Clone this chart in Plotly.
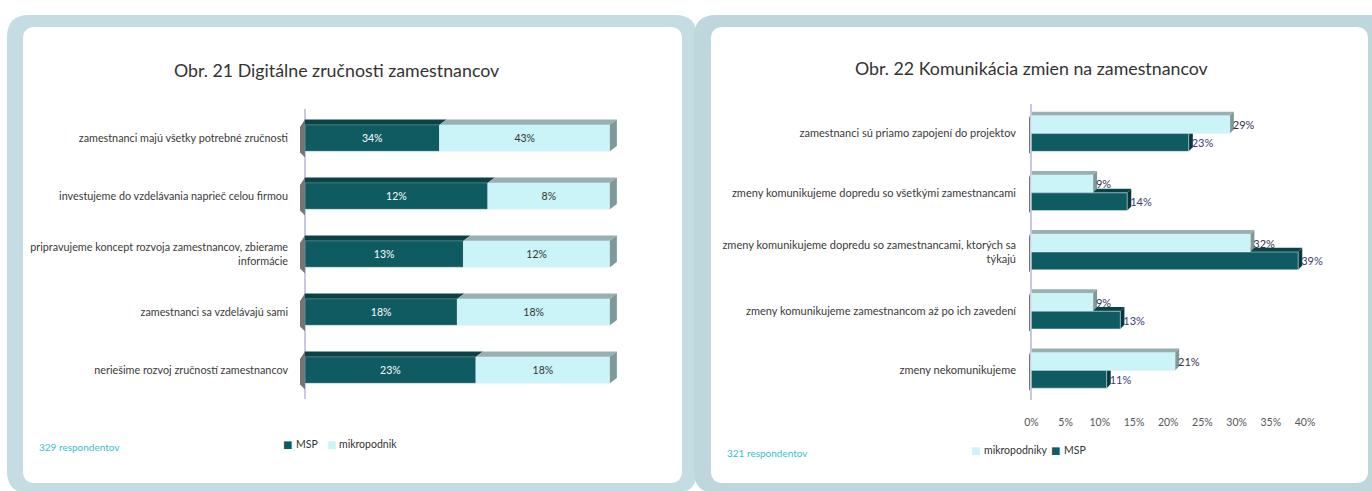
import plotly.graph_objects as go

W, H = 1372, 491
FONT = "Lato, 'Open Sans', sans-serif"

# ---------------- data ----------------
cat1 = [
    "zamestnanci majú všetky potrebné zručnosti",
    "investujeme do vzdelávania naprieč celou firmou",
    "pripravujeme koncept rozvoja zamestnancov, zbierame<br>informácie",
    "zamestnanci sa vzdelávajú sami",
    "neriešime rozvoj zručností zamestnancov",
]
msp1 = [34, 12, 13, 18, 23]
mikro1 = [43, 8, 12, 18, 18]

cat2 = [
    "zamestnanci sú priamo zapojení do projektov",
    "zmeny komunikujeme dopredu so všetkými zamestnancami",
    "zmeny komunikujeme dopredu so zamestnancami, ktorých sa<br>týkajú",
    "zmeny komunikujeme zamestnancom až po ich zavedení",
    "zmeny nekomunikujeme",
]
mikro2 = [29, 9, 32, 9, 21]
msp2 = [23, 14, 39, 13, 11]

x2_ticks = [0, 5, 10, 15, 20, 25, 30, 35, 40]
x2_ticktext = ["0%", "5%", "10%", "15%", "20%", "25%", "30%", "35%", "40%"]

title1 = "Obr. 21 Digitálne zručnosti zamestnancov"
title2 = "Obr. 22 Komunikácia zmien na zamestnancov"
note1 = "329 respondentov"
note2 = "321 respondentov"
legend1_names = ["MSP", "mikropodnik"]
legend2_names = ["mikropodniky", "MSP"]

DARK = "#0e5c61"
LIGHT = "#cbf4f8"

# shares for the 100% stacked chart
tot1 = [a + b for a, b in zip(msp1, mikro1)]
share_msp1 = [a / t * 100 for a, t in zip(msp1, tot1)]
share_mikro1 = [b / t * 100 for b, t in zip(mikro1, tot1)]


def px(x):
    return x / W


def py(y):
    return 1 - y / H


def rrect(x0, y0, x1, y1, r):
    rx, ry = r / W, r / H
    X0, X1 = px(x0), px(x1)
    Y0, Y1 = py(y0), py(y1)
    return (f"M{X0+rx},{Y0} L{X1-rx},{Y0} Q{X1},{Y0} {X1},{Y0-ry} "
            f"L{X1},{Y1+ry} Q{X1},{Y1} {X1-rx},{Y1} L{X0+rx},{Y1} "
            f"Q{X0},{Y1} {X0},{Y1+ry} L{X0},{Y0-ry} Q{X0},{Y0} {X0+rx},{Y0} Z")


def poly(pts):
    return "M" + " L".join(f"{x},{y}" for x, y in pts) + " Z"


W1 = 0.46          # bar thickness, chart 1
BW2 = 0.30         # bar thickness, chart 2

fig = go.Figure()

# ---------------- chart 1 (100% stacked) ----------------
fig.add_trace(go.Bar(
    y=cat1, x=share_msp1, name=legend1_names[0], orientation="h", marker_color=DARK,
    width=W1, text=[f"{v}%" for v in msp1], textposition="inside",
    insidetextanchor="middle", textfont=dict(color="white", size=10.5, family=FONT),
    xaxis="x", yaxis="y", showlegend=False, hoverinfo="skip",
))
fig.add_trace(go.Bar(
    y=cat1, x=share_mikro1, base=share_msp1, name=legend1_names[1], orientation="h",
    marker_color=LIGHT, width=W1, text=[f"{v}%" for v in mikro1],
    textposition="inside", insidetextanchor="middle",
    textfont=dict(color="#333333", size=10.5, family=FONT),
    xaxis="x", yaxis="y", showlegend=False, hoverinfo="skip",
))

# ---------------- chart 2 (grouped) ----------------
fig.add_trace(go.Bar(
    y=cat2, x=mikro2, name=legend2_names[0], orientation="h", marker_color=LIGHT,
    width=BW2, offset=-BW2,
    text=[f"{v}%" for v in mikro2], textposition="outside", cliponaxis=False,
    textfont=dict(color="#33334d", size=11, family=FONT),
    xaxis="x2", yaxis="y2", showlegend=False, hoverinfo="skip",
))
fig.add_trace(go.Bar(
    y=cat2, x=msp2, name=legend2_names[1], orientation="h", marker_color=DARK,
    width=BW2, offset=0,
    text=[f"{v}%" for v in msp2], textposition="outside", cliponaxis=False,
    textfont=dict(color="#3a3a7c", size=11, family=FONT),
    xaxis="x2", yaxis="y2", showlegend=False, hoverinfo="skip",
))

shapes = []
# background panels
shapes.append(dict(type="path", xref="paper", yref="paper", layer="below",
                   path=rrect(7, 15, 697, 493, 22), fillcolor="#c3dde2", line_width=0))
shapes.append(dict(type="path", xref="paper", yref="paper", layer="below",
                   path=rrect(694, 15, 1395, 493, 22), fillcolor="#bdd7dd", line_width=0))
shapes.append(dict(type="path", xref="paper", yref="paper", layer="below",
                   path=rrect(23, 27, 682, 483, 12), fillcolor="white", line_width=0))
shapes.append(dict(type="path", xref="paper", yref="paper", layer="below",
                   path=rrect(711, 27, 1368, 483, 12), fillcolor="white", line_width=0))

# 3D faces chart 1 (derived from data)
hw1 = W1 / 2
dx1, dy1 = 2.3, 0.09
for i, s in enumerate(share_msp1):
    top, bot = i - hw1, i + hw1
    shapes.append(dict(type="path", xref="x", yref="y", layer="above", line_width=0,
                       fillcolor="#0a4346",
                       path=poly([(0, top), (s, top), (s + dx1, top - dy1), (0, top - dy1)])))
    shapes.append(dict(type="path", xref="x", yref="y", layer="above", line_width=0,
                       fillcolor="#97b0b0",
                       path=poly([(s, top), (100, top), (100 + dx1, top - dy1), (s + dx1, top - dy1)])))
    shapes.append(dict(type="path", xref="x", yref="y", layer="above", line_width=0,
                       fillcolor="#7d9999",
                       path=poly([(100, top), (100 + dx1, top - dy1), (100 + dx1, bot - dy1), (100, bot)])))
    shapes.append(dict(type="path", xref="x", yref="y", layer="above", line_width=0,
                       fillcolor="#5d5d5d", opacity=0.85,
                       path=poly([(0, top - dy1), (-1.6, top + 0.04), (-1.6, bot + 0.02), (0, bot + 0.1)])))

# 3D faces chart 2 (derived from data)
dx2, dy2 = 0.6, 0.07
for i, (m, s) in enumerate(zip(mikro2, msp2)):
    t0, mid, b1 = i - BW2, i, i + BW2
    shapes.append(dict(type="path", xref="x2", yref="y2", layer="below", line_width=0,
                       fillcolor="#0a4346",
                       path=poly([(0, mid), (s, mid), (s + dx2, mid - dy2), (0, mid - dy2)])))
    shapes.append(dict(type="path", xref="x2", yref="y2", layer="below", line_width=0,
                       fillcolor="#08383b",
                       path=poly([(s, mid), (s + dx2, mid - dy2), (s + dx2, b1 - dy2), (s, b1)])))
    shapes.append(dict(type="path", xref="x2", yref="y2", layer="below", line_width=0,
                       fillcolor="#97b0b0",
                       path=poly([(0, t0), (m, t0), (m + dx2, t0 - dy2), (0, t0 - dy2)])))
    shapes.append(dict(type="path", xref="x2", yref="y2", layer="below", line_width=0,
                       fillcolor="#7d9999",
                       path=poly([(m, t0), (m + dx2, t0 - dy2), (m + dx2, mid - dy2), (m, mid)])))
    shapes.append(dict(type="path", xref="x2", yref="y2", layer="below", line_width=0,
                       fillcolor="#5d5d5d", opacity=0.85,
                       path=poly([(0, t0 - dy2), (-0.35, t0 + 0.04), (-0.35, b1 + 0.02), (0, b1 + 0.08)])))


def ann(text, x, y, size, color, xanchor="left", family=FONT):
    return dict(text=text, x=px(x), y=py(y), xref="paper", yref="paper", showarrow=False,
                xanchor=xanchor, yanchor="middle", font=dict(size=size, color=color, family=family))


SQ = "DejaVu Sans"
annotations = [
    ann(title1, 336, 70, 17.8, "#333333", "center"),
    ann(title2, 1031, 68, 17.8, "#333333", "center"),
    ann(note1, 37, 447, 10, "#38bfc8"),
    ann(note2, 725, 453, 10, "#38bfc8"),
    # legend chart 1
    ann("■", 281, 444, 10, DARK, family=SQ),
    ann(legend1_names[0], 294, 444, 10.5, "#333333"),
    ann("■", 325, 444, 10, LIGHT, family=SQ),
    ann(legend1_names[1], 337, 444, 10.5, "#333333"),
    # legend chart 2
    ann("■", 969, 450, 10, LIGHT, family=SQ),
    ann(legend2_names[0], 982, 450, 10.5, "#333333"),
    ann("■", 1049, 450, 10, DARK, family=SQ),
    ann(legend2_names[1], 1062, 450, 10.5, "#333333"),
]

fig.update_layout(
    width=W, height=H,
    margin=dict(l=0, r=0, t=0, b=0, pad=0, autoexpand=False),
    paper_bgcolor="white", plot_bgcolor="rgba(0,0,0,0)",
    font=dict(family=FONT, color="#333333"),
    barmode="overlay", showlegend=False,
    shapes=shapes, annotations=annotations,
    xaxis=dict(domain=[px(300), px(619)], range=[-1.6, 103], showgrid=False,
               showticklabels=False, zeroline=True, zerolinecolor="#c9c9e4",
               zerolinewidth=1.5, automargin=False),
    yaxis=dict(domain=[py(399), py(109)], autorange="reversed", showgrid=False,
               showline=False, ticks="", ticklabelstandoff=11, automargin=False,
               tickfont=dict(size=10.8, color="#3a3a3a", family=FONT),
               categoryorder="array", categoryarray=cat1),
    xaxis2=dict(domain=[px(1029), px(1305)], range=[-0.35, 40], showgrid=False,
                zeroline=True, zerolinecolor="#c9c9e4", zerolinewidth=1.5,
                tickmode="array", tickvals=x2_ticks, ticktext=x2_ticktext,
                ticks="", ticklabelstandoff=14, anchor="y2", automargin=False,
                tickfont=dict(size=10.5, color="#555555", family=FONT)),
    yaxis2=dict(domain=[py(400), py(104)], autorange="reversed", showgrid=False,
                showline=False, ticks="", ticklabelstandoff=12, anchor="x2",
                automargin=False,
                tickfont=dict(size=11, color="#3a3a3a", family=FONT),
                categoryorder="array", categoryarray=cat2),
)

fig.write_html("out.html", config={"displayModeBar": False},
               post_script="document.body.style.margin='0';document.body.style.overflow='hidden';")
